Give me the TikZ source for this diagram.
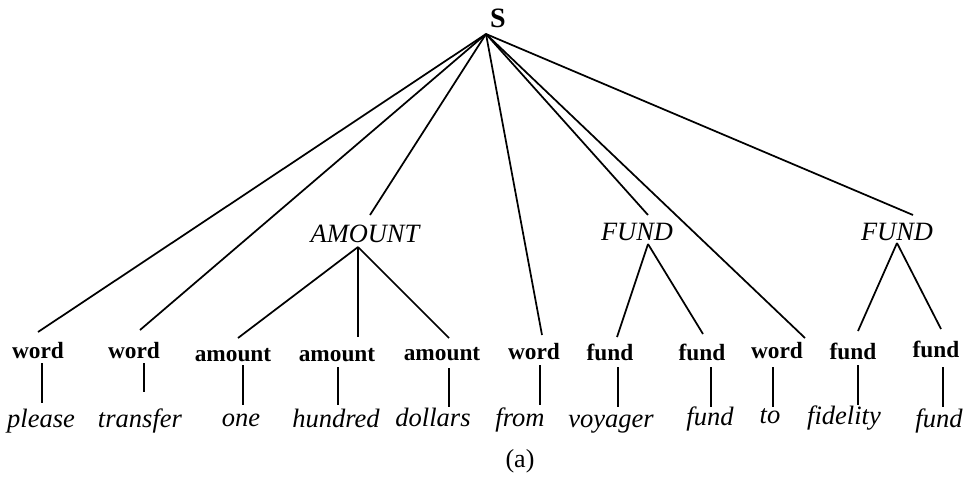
\documentclass[tikz,border=0pt]{standalone}
\usepackage{fontspec}
\setmainfont{Liberation Serif}
\begin{document}
\begin{tikzpicture}[x=0.75pt,y=-0.75pt,
  lbl/.style={font=\fontsize{17.5}{20}\selectfont\bfseries, inner sep=0pt, anchor=base},
  leaf/.style={font=\fontsize{19.9}{24}\selectfont\itshape, inner sep=0pt, anchor=base},
  cat/.style={font=\fontsize{19.8}{24}\selectfont\itshape, inner sep=0pt, anchor=base},
  root/.style={font=\fontsize{21}{24}\selectfont\bfseries, inner sep=0pt, anchor=base},
  edge/.style={line width=1.3pt}]
\useasboundingbox (0,0) rectangle (971,476);

% root
\node[root] (S) at (498,27) {S};
\coordinate (Sa) at (486,34);

% intermediate categories
\node[cat] (A) at (365,242) {AMOUNT};
\node[cat] (F1) at (637,240) {FUND};
\node[cat] (F2) at (897,240) {FUND};
\coordinate (At) at (370,215);
\coordinate (Ab) at (358,247);
\coordinate (F1t) at (648,215);
\coordinate (F1b) at (648,244);
\coordinate (F2t) at (913,215);
\coordinate (F2b) at (897,243);

% pre-terminal labels
\node[lbl] (w1) at (38,358) {word};
\node[lbl] (w2) at (134,358) {word};
\node[lbl] (a1) at (233,361) {amount};
\node[lbl] (a2) at (337,361) {amount};
\node[lbl] (a3) at (442,360) {amount};
\node[lbl] (w4) at (534,359) {word};
\node[lbl] (f1) at (610,360) {fund};
\node[lbl] (f2) at (702,360) {fund};
\node[lbl] (w5) at (777,358) {word};
\node[lbl] (f3) at (853,359) {fund};
\node[lbl] (f4) at (936,357) {fund};

% top ends of the edges arriving at the labels
\coordinate (w1t) at (38,332);
\coordinate (w2t) at (140,330);
\coordinate (a1t) at (238,338);
\coordinate (a2t) at (358,337);
\coordinate (a3t) at (449,338);
\coordinate (w4t) at (542,335);
\coordinate (f1t) at (617,337);
\coordinate (f2t) at (703,334);
\coordinate (w5t) at (805,338);
\coordinate (f3t) at (858,331);
\coordinate (f4t) at (941,329);

% words
\node[leaf] (l1) at (41,427) {please};
\node[leaf] (l2) at (140,427) {transfer};
\node[leaf] (l3) at (241,426) {one};
\node[leaf] (l4) at (336,427) {hundred};
\node[leaf] (l5) at (433,426) {dollars};
\node[leaf] (l6) at (520,426) {from};
\node[leaf] (l7) at (611,427) {voyager};
\node[leaf] (l8) at (710,425) {fund};
\node[leaf] (l9) at (770,423) {to};
\node[leaf] (l10) at (844,424) {fidelity};
\node[leaf] (l11) at (939,427) {fund};

% caption
\node[font=\fontsize{19.5}{24}\selectfont, inner sep=0pt, anchor=base] (cap) at (520,467) {(a)};

% edges from the root
\draw[edge] (Sa) -- (w1t);
\draw[edge] (Sa) -- (w2t);
\draw[edge] (Sa) -- (At);
\draw[edge] (Sa) -- (w4t);
\draw[edge] (Sa) -- (F1t);
\draw[edge] (Sa) -- (w5t);
\draw[edge] (Sa) -- (F2t);

% edges from categories
\draw[edge] (Ab) -- (a1t);
\draw[edge] (Ab) -- (a2t);
\draw[edge] (Ab) -- (a3t);
\draw[edge] (F1b) -- (f1t);
\draw[edge] (F1b) -- (f2t);
\draw[edge] (F2b) -- (f3t);
\draw[edge] (F2b) -- (f4t);

% vertical edges label -> word
\draw[edge] (41.7,363) coordinate (v1a) -- (41.7,403) coordinate (v1b);
\draw[edge] (144,363) coordinate (v2a) -- (144,392) coordinate (v2b);
\draw[edge] (243,365) coordinate (v3a) -- (243,405) coordinate (v3b);
\draw[edge] (338,367) coordinate (v4a) -- (338,405) coordinate (v4b);
\draw[edge] (449,368) coordinate (v5a) -- (449,407) coordinate (v5b);
\draw[edge] (540,365) coordinate (v6a) -- (540,405) coordinate (v6b);
\draw[edge] (618,367) coordinate (v7a) -- (618,407) coordinate (v7b);
\draw[edge] (711,367) coordinate (v8a) -- (711,407) coordinate (v8b);
\draw[edge] (773,367) coordinate (v9a) -- (773,407) coordinate (v9b);
\draw[edge] (858,365) coordinate (v10a) -- (858,405) coordinate (v10b);
\draw[edge] (943,367) coordinate (v11a) -- (943,407) coordinate (v11b);
\end{tikzpicture}
\end{document}
